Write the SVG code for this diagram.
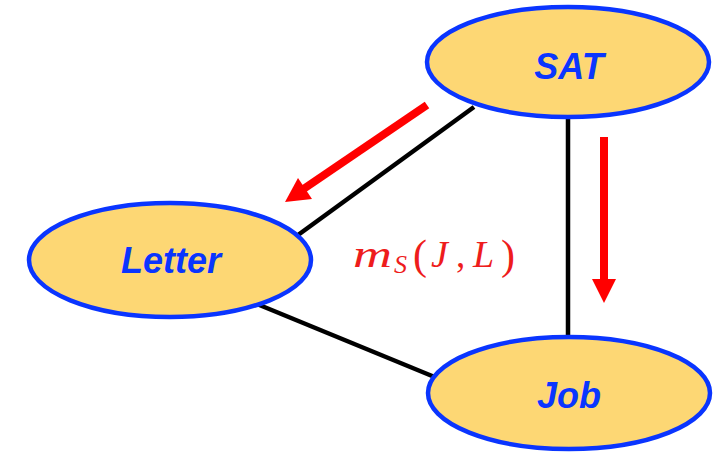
<svg xmlns="http://www.w3.org/2000/svg" width="728" height="452" viewBox="0 0 728 452">
<style>
.node ellipse{fill:#fdd774;stroke:#0a35ff;stroke-width:4.5}
.node text{font-family:"Liberation Sans",Arial,sans-serif;font-weight:bold;font-style:italic;font-size:36px;fill:#0a35ff;text-anchor:middle}
.edge{stroke:#000;stroke-width:4.5;fill:none}
.arr{stroke:#ff0000;stroke-width:8;fill:none}
.head{fill:#ff0000}
.math{font-family:"Liberation Serif","Times New Roman",serif;fill:#ee1c1c;font-size:37px}
</style>
<rect width="728" height="452" fill="#fff"/>
<g id="connectors">
<line class="edge" x1="474" y1="107" x2="298" y2="235"/>
<line class="edge" x1="568" y1="118" x2="568" y2="336"/>
<line class="edge" x1="257" y1="304" x2="437" y2="378"/>
</g>
<g id="arrows">
<line class="arr" x1="427" y1="105" x2="302" y2="190"/>
<polygon class="head" points="285,202 298,178 312,199"/>
<line class="arr" x1="604" y1="137" x2="604" y2="282"/>
<polygon class="head" points="592,279 616,279 604,303"/>
</g>
<g id="SAT" class="node">
<ellipse cx="568" cy="62" rx="141" ry="55"/>
<text x="569" y="79">SAT</text>
</g>
<g id="Letter" class="node">
<ellipse cx="170" cy="260" rx="141" ry="57"/>
<text x="171" y="273">Letter</text>
</g>
<g id="Job" class="node">
<ellipse cx="569" cy="393" rx="141" ry="56"/>
<text x="569" y="408">Job</text>
</g>
<g id="label">
<text class="math" y="267"><tspan x="353" font-style="italic" textLength="39" lengthAdjust="spacingAndGlyphs">m</tspan><tspan x="394" y="273" font-style="italic" font-size="26px">S</tspan><tspan x="413" y="269" font-size="42px">(</tspan><tspan x="431" y="267" font-style="italic" font-size="38px">J</tspan><tspan x="456" y="267">,</tspan><tspan x="473" y="267" font-style="italic" font-size="38px">L</tspan><tspan x="501" y="269" font-size="42px">)</tspan></text>
</g>
</svg>
